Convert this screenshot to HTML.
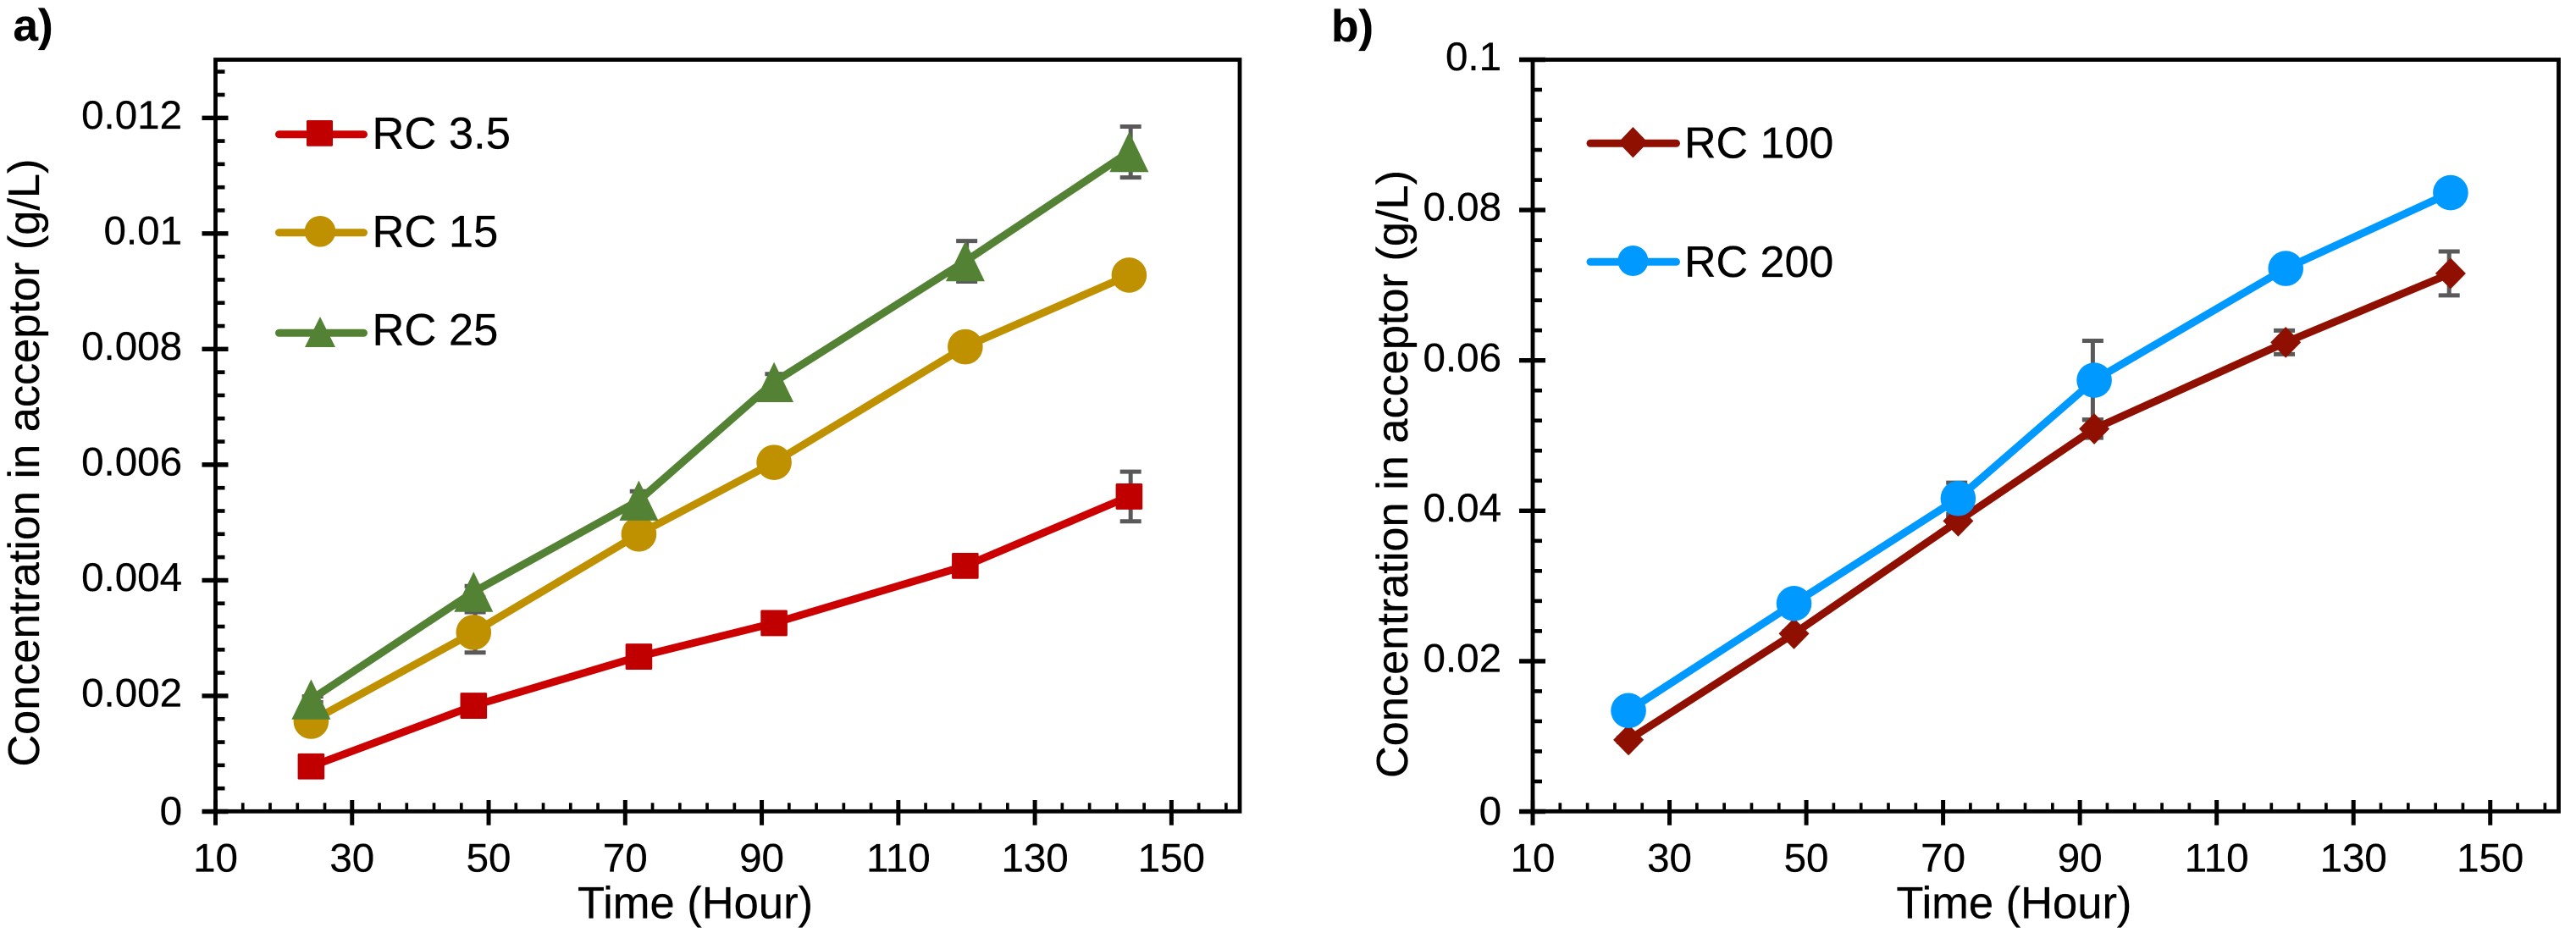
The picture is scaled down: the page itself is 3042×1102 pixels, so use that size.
<!DOCTYPE html>
<html lang="en">
<head>
<meta charset="utf-8">
<title>Concentration in acceptor over time</title>
<style>
html,body{margin:0;padding:0;background:#fff;}
svg{display:block;}
text{font-family:"Liberation Sans",Arial,sans-serif;fill:#000;stroke:#000;stroke-width:0.3px;}
</style>
</head>
<body>
<svg id="figure" xmlns="http://www.w3.org/2000/svg" width="3042" height="1102" viewBox="0 0 3042 1102">
  <rect x="0" y="0" width="3042" height="1102" fill="#ffffff"/>
  <g id="panel-a">
    <text x="15.5" y="48" font-size="53" font-weight="700">a)</text>
    <text transform="translate(46 546.6) rotate(-90)" text-anchor="middle" font-size="52.3">Concentration in acceptor (g/L)</text>
    <text x="821" y="1084.3" text-anchor="middle" font-size="52.5">Time (Hour)</text>
    <g>
      <g>
        <line x1="329.5" y1="158.7" x2="429.5" y2="158.7" stroke="#CC0000" stroke-width="9" stroke-linecap="round"/>
        <rect x="362" y="142" width="31" height="30.7" rx="1.5" fill="#C00000"/>
        <text x="439.5" y="175.7" font-size="52.5">RC 3.5</text>
      </g>
      <g>
        <line x1="329.5" y1="274.7" x2="429.5" y2="274.7" stroke="#BF9000" stroke-width="9" stroke-linecap="round"/>
        <circle cx="378" cy="273.3" r="18.3" fill="#BF9000"/>
        <text x="439.5" y="291.7" font-size="52.5">RC 15</text>
      </g>
      <g>
        <line x1="329.5" y1="393.3" x2="429.5" y2="393.3" stroke="#548235" stroke-width="9" stroke-linecap="round"/>
        <polygon points="378,374 396,410 360,410" fill="#548235"/>
        <text x="439.5" y="407.7" font-size="52.5">RC 25</text>
      </g>
    </g>
  </g>
  <g id="panel-b">
    <text x="1572" y="49" font-size="53" font-weight="700">b)</text>
    <text transform="translate(1661.8 560) rotate(-90)" text-anchor="middle" font-size="52.3">Concentration in acceptor (g/L)</text>
    <text x="2378.4" y="1084.3" text-anchor="middle" font-size="52.5">Time (Hour)</text>
    <g>
      <g>
        <line x1="1878" y1="169.3" x2="1979.5" y2="169.3" stroke="#8F1000" stroke-width="9" stroke-linecap="round"/>
        <polygon points="1928.4,150 1946,168.3 1928.4,186.4 1911,168.3" fill="#8F1000"/>
        <text x="1989" y="186.4" font-size="52">RC 100</text>
      </g>
      <g>
        <line x1="1878" y1="309.3" x2="1979.5" y2="309.3" stroke="#0099FF" stroke-width="9" stroke-linecap="round"/>
        <circle cx="1928.4" cy="308" r="18" fill="#0099FF"/>
        <text x="1989" y="326.8" font-size="52">RC 200</text>
      </g>
    </g>
  </g>
</svg>
<script>
// Shared x axis
const xTickValues = [10, 30, 50, 70, 90, 110, 130, 150];
const xTickLabels = ['10', '30', '50', '70', '90', '110', '130', '150'];

// Panel a data
const hoursA = [24, 47.8, 72, 91.8, 119.8, 143.8];
const rc35 = [0.00078, 0.00183, 0.00268, 0.00326, 0.00425, 0.00545];
const rc35Err = [0.00005, 0.00005, 0.00005, 0.00005, 0.00005, 0.00043];
const rc15 = [0.00156, 0.0031, 0.0048, 0.00604, 0.00804, 0.00928];
const rc15Err = [0.00005, 0.00035, 0.00005, 0.00005, 0.00005, 0.00005];
const rc25 = [0.00194, 0.0038, 0.00538, 0.00743, 0.00952, 0.01141];
const rc25Err = [0.00005, 0.0001, 0.00016, 0.00014, 0.00035, 0.00044];
const yTickValuesA = [0, 0.002, 0.004, 0.006, 0.008, 0.01, 0.012];
const yTickLabelsA = ['0', '0.002', '0.004', '0.006', '0.008', '0.01', '0.012'];

// Panel b data
const hoursB = [24, 48.2, 72.2, 92.1, 120.1, 144.2];
const rc100 = [0.00953, 0.02366, 0.03864, 0.0509, 0.0624, 0.07157];
const rc100Err = [0.0003, 0.0003, 0.0005, 0.0012, 0.00158, 0.00292];
const rc200 = [0.01342, 0.02767, 0.04164, 0.05737, 0.07223, 0.08231];
const rc200Err = [0.0003, 0.0003, 0.0021, 0.00524, 0.0005, 0.0005];
const yTickValuesB = [0, 0.02, 0.04, 0.06, 0.08, 0.1];
const yTickLabelsB = ['0', '0.02', '0.04', '0.06', '0.08', '0.1'];

const SVG_NS = 'http://www.w3.org/2000/svg';

function make(tag, attrs, parent) {
  const node = document.createElementNS(SVG_NS, tag);
  for (const key in attrs) { node.setAttribute(key, attrs[key]); }
  parent.appendChild(node);
  return node;
}

function linearScale(d0, d1, r0, r1) {
  return function (v) { return r0 + (v - d0) * (r1 - r0) / (d1 - d0); };
}

function drawAxes(parent, frame, xScale, yScale, yValues, yLabels, yLabelX, yMax) {
  const box = make('rect', { x: frame.left, y: frame.top, width: frame.right - frame.left, height: frame.bottom - frame.top, fill: 'none', stroke: '#000', 'stroke-width': 4.8 }, parent);
  
  

  // y ticks
  const yStep = yValues[1] - yValues[0];
  yValues.forEach(function (value, i) {
    const y = yScale(value);
    const tick = make('line', { x1: frame.left - 16, x2: frame.left + 15, y1: y, y2: y, stroke: '#000', 'stroke-width': 5.4 }, parent);
    
    
    const label = make('text', { x: yLabelX, y: y + (value === 0 ? 15.5 : 12.6), 'text-anchor': 'end', 'font-size': 47.5 }, parent);
    label.textContent = yLabels[i];
    
    
    for (let m = 1; m < 5; m++) {
      const minorValue = value + yStep * m / 5;
      if (minorValue >= yMax - 1e-9) { continue; }
      const my = yScale(minorValue);
      const minor = make('line', { x1: frame.left, x2: frame.left + 11, y1: my, y2: my, stroke: '#000', 'stroke-width': 4.6 }, parent);
      
      
    }
  });

  // x ticks
  const xStep = xTickValues[1] - xTickValues[0];
  xTickValues.forEach(function (value, i) {
    const x = xScale(value);
    const tick = make('line', { x1: x, x2: x, y1: 945, y2: 974.7, stroke: '#000', 'stroke-width': 5 }, parent);
    
    
    const label = make('text', { x: x, y: 1029.3, 'text-anchor': 'middle', 'font-size': 47.5 }, parent);
    label.textContent = xTickLabels[i];
    
    
    for (let m = 1; m < 5; m++) {
      const mx = xScale(value + xStep * m / 5);
      if (mx >= frame.right - 5) { continue; }
      const minor = make('line', { x1: mx, x2: mx, y1: 948.3, y2: frame.bottom, stroke: '#000', 'stroke-width': 3.7 }, parent);
      
      
    }
  });
}

function drawErrors(parent, xs, ys, errs, xScale, yScale, offset) {
  xs.forEach(function (h, i) {
    const x = xScale(h) + offset;
    const hi = yScale(ys[i] + errs[i]);
    const lo = yScale(ys[i] - errs[i]);
    const stem = make('line', { x1: x, x2: x, y1: hi, y2: lo, stroke: '#595959', 'stroke-width': 5 }, parent);
    
    
    const capTop = make('line', { x1: x - 12.5, x2: x + 12.5, y1: hi, y2: hi, stroke: '#595959', 'stroke-width': 5 }, parent);
    
    
    const capBottom = make('line', { x1: x - 12.5, x2: x + 12.5, y1: lo, y2: lo, stroke: '#595959', 'stroke-width': 5 }, parent);
    
    
  });
}

function drawSeries(parent, xs, ys, lineColor, markerColor, shape, xScale, yScale) {
  const points = xs.map(function (h, i) { return xScale(h).toFixed(1) + ',' + yScale(ys[i]).toFixed(1); }).join(' ');
  const path = make('polyline', { points: points, fill: 'none', stroke: lineColor, 'stroke-width': 9, 'stroke-linejoin': 'round', 'stroke-linecap': 'round' }, parent);
  
  
  xs.forEach(function (h, i) {
    const x = xScale(h);
    const y = yScale(ys[i]);
    let mark;
    if (shape === 'square') {
      mark = make('rect', { x: x - 15.8, y: y - 15.4, width: 31.6, height: 30.8, rx: 1.5, fill: markerColor }, parent);
    } else if (shape === 'circle') {
      mark = make('circle', { cx: x, cy: y, r: 20.8, fill: markerColor }, parent);
    } else if (shape === 'triangle') {
      const tri = (x).toFixed(1) + ',' + (y - 23.7).toFixed(1) + ' ' + (x + 23).toFixed(1) + ',' + (y + 23.7).toFixed(1) + ' ' + (x - 23).toFixed(1) + ',' + (y + 23.7).toFixed(1);
      mark = make('polygon', { points: tri, fill: markerColor }, parent);
    } else {
      const dia = (x).toFixed(1) + ',' + (y - 18.4).toFixed(1) + ' ' + (x + 18).toFixed(1) + ',' + y.toFixed(1) + ' ' + (x).toFixed(1) + ',' + (y + 18.4).toFixed(1) + ' ' + (x - 18).toFixed(1) + ',' + y.toFixed(1);
      mark = make('polygon', { points: dia, fill: markerColor }, parent);
    }
    
    
  });
}

// Panel a
const panelA = document.getElementById('panel-a');
const frameA = { left: 254.5, right: 1464, top: 70.5, bottom: 958.3 };
const xA = linearScale(10, 160, 254.5, 1464);
const yA = linearScale(0, 0.013, 958.5, 71);
drawAxes(panelA, frameA, xA, yA, yTickValuesA, yTickLabelsA, 215, 0.013);
const errorsA = make('g', {}, panelA);


drawErrors(errorsA, hoursA, rc35, rc35Err, xA, yA, 1.8);
drawErrors(errorsA, hoursA, rc15, rc15Err, xA, yA, 1.8);
drawErrors(errorsA, hoursA, rc25, rc25Err, xA, yA, 1.8);
const seriesRc35 = make('g', {}, panelA);


drawSeries(seriesRc35, hoursA, rc35, '#CC0000', '#C00000', 'square', xA, yA);
const seriesRc15 = make('g', {}, panelA);


drawSeries(seriesRc15, hoursA, rc15, '#BF9000', '#BF9000', 'circle', xA, yA);
const seriesRc25 = make('g', {}, panelA);


drawSeries(seriesRc25, hoursA, rc25, '#548235', '#548235', 'triangle', xA, yA);

// Panel b
const panelB = document.getElementById('panel-b');
const frameB = { left: 1810, right: 3021.5, top: 70.5, bottom: 958.3 };
const xB = linearScale(10, 160, 1810, 3021.5);
const yB = linearScale(0, 0.1, 958.5, 70.5);
drawAxes(panelB, frameB, xB, yB, yTickValuesB, yTickLabelsB, 1773, 0.1);
const errorsB = make('g', {}, panelB);


drawErrors(errorsB, hoursB, rc100, rc100Err, xB, yB, -1.7);
drawErrors(errorsB, hoursB, rc200, rc200Err, xB, yB, -1.7);
const seriesRc100 = make('g', {}, panelB);


drawSeries(seriesRc100, hoursB, rc100, '#8F1000', '#8F1000', 'diamond', xB, yB);
const seriesRc200 = make('g', {}, panelB);


drawSeries(seriesRc200, hoursB, rc200, '#0099FF', '#0099FF', 'circle', xB, yB);
</script>
</body>
</html>
